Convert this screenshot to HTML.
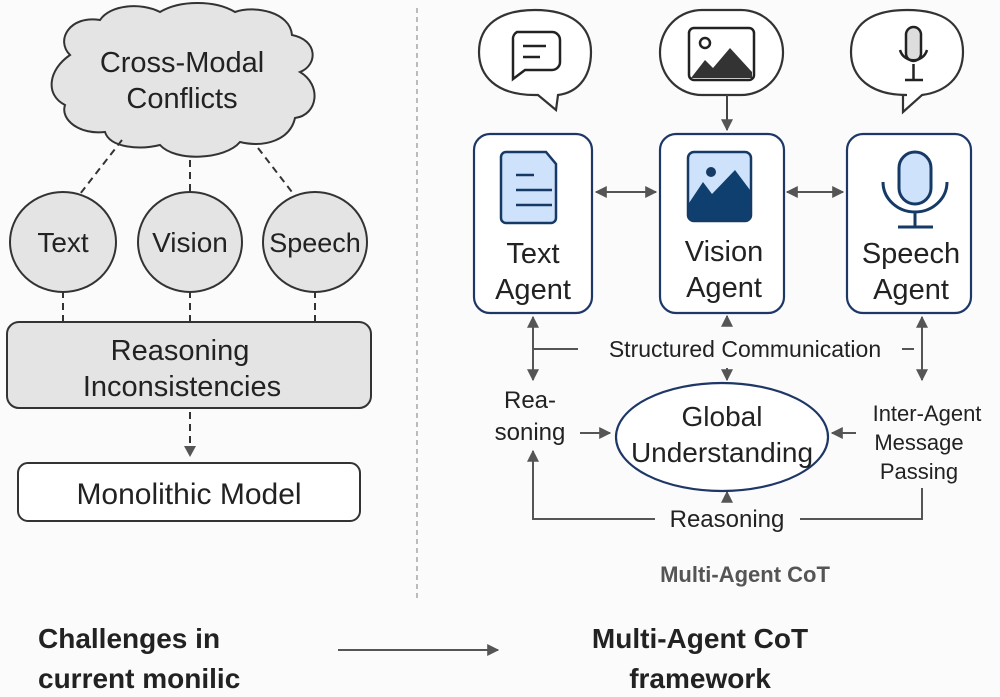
<!DOCTYPE html>
<html><head><meta charset="utf-8"><style>
body{margin:0;background:#fbfbfb;}
svg{display:block}
text{font-family:"Liberation Sans",sans-serif;fill:#222}
</style></head><body>
<svg width="1000" height="697" viewBox="0 0 1000 697" xmlns="http://www.w3.org/2000/svg">
<defs>
<marker id="ah" viewBox="0 0 10 10" refX="9" refY="5" markerWidth="6" markerHeight="6" orient="auto-start-reverse"><path d="M0,0L10,5L0,10z" fill="#555"/></marker>
</defs>
<rect width="1000" height="697" fill="#fbfbfb"/>
<line x1="417" y1="8" x2="417" y2="600" stroke="#999" stroke-width="1.3" stroke-dasharray="5,4"/>
<!-- cloud -->
<path d="M70,55 C55,40 70,15 100,20 C110,5 140,2 160,12 C180,0 215,0 235,12 C255,5 290,12 292,35 C318,40 318,65 300,72 C322,85 318,115 295,118 C290,140 265,148 240,142 C225,160 175,162 160,145 C140,150 110,148 105,132 C80,135 60,120 65,105 C45,95 48,70 70,55 Z" fill="#e4e4e4" stroke="#333" stroke-width="2"/>
<text x="182" y="72" font-size="29" text-anchor="middle">Cross-Modal</text>
<text x="182" y="108" font-size="29" text-anchor="middle">Conflicts</text>
<g stroke="#333" stroke-width="2" stroke-dasharray="7,5" fill="none">
<line x1="122" y1="140" x2="80" y2="194"/>
<line x1="190" y1="160" x2="190" y2="192"/>
<line x1="258" y1="148" x2="295" y2="196"/>
<line x1="63" y1="291" x2="63" y2="322"/>
<line x1="190" y1="291" x2="190" y2="322"/>
<line x1="315" y1="291" x2="315" y2="322"/>
<line x1="190" y1="412" x2="190" y2="445"/>
</g>
<polygon points="184,446 196,446 190,457" fill="#555"/>
<g fill="#e4e4e4" stroke="#333" stroke-width="2">
<ellipse cx="63" cy="242" rx="53" ry="50"/>
<ellipse cx="190" cy="242" rx="52" ry="50"/>
<ellipse cx="315" cy="242" rx="52" ry="50"/>
<rect x="7" y="322" width="364" height="86" rx="12"/>
</g>
<text x="63" y="252" font-size="28" text-anchor="middle">Text</text>
<text x="190" y="252" font-size="28" text-anchor="middle">Vision</text>
<text x="315" y="252" font-size="27" text-anchor="middle">Speech</text>
<text x="180" y="360" font-size="29" text-anchor="middle">Reasoning</text>
<text x="182" y="396" font-size="29" text-anchor="middle">Inconsistencies</text>
<rect x="18" y="463" width="342" height="58" rx="10" fill="#fff" stroke="#333" stroke-width="2"/>
<text x="189" y="504" font-size="30" text-anchor="middle">Monolithic Model</text>
<!-- bottom titles -->
<text x="38" y="648" font-size="28" font-weight="bold">Challenges in</text>
<text x="38" y="688" font-size="28" font-weight="bold">current monilic</text>
<line x1="338" y1="650" x2="498" y2="650" stroke="#555" stroke-width="2" marker-end="url(#ah)"/>
<text x="700" y="648" font-size="28" font-weight="bold" text-anchor="middle">Multi-Agent CoT</text>
<text x="700" y="688" font-size="28" font-weight="bold" text-anchor="middle">framework</text>
<!-- bubbles -->
<g fill="#fff" stroke="#333" stroke-width="2.2">
<path d="M535,95 C495,95 479,75 479,52 C479,25 500,10 535,10 C570,10 591,25 591,52 C591,80 575,93 558,95 L556,110 L538,95 Z"/>
<rect x="660" y="10" width="123" height="85" rx="42"/>
<path d="M907,95 C870,95 851,77 851,52 C851,25 870,10 907,10 C945,10 963,25 963,52 C963,78 945,92 922,95 L903,112 L903,95 Z"/>
</g>
<!-- bubble icons -->
<path d="M517,32 h35 a8,8 0 0 1 8,8 v22 a8,8 0 0 1 -8,8 h-27 l-12,9 v-39 a8,8 0 0 1 4,-8z" fill="none" stroke="#222" stroke-width="2.5"/>
<line x1="523" y1="46" x2="546" y2="46" stroke="#222" stroke-width="2.5"/><line x1="523" y1="57" x2="540" y2="57" stroke="#222" stroke-width="2.5"/>
<rect x="689" y="28" width="65" height="52" rx="5" fill="#fff" stroke="#222" stroke-width="2.5"/>
<circle cx="705" cy="43" r="5" fill="none" stroke="#222" stroke-width="2.5"/>
<path d="M691,78 L705,60 L713,68 L730,48 L752,72 L752,78Z" fill="#333"/>
<rect x="906" y="27" width="15" height="34" rx="7.5" fill="#ddd" stroke="#222" stroke-width="2.5"/>
<path d="M900,50 a14,14 0 0 0 27,0 M913.5,64 v15 M905,80 h18" fill="none" stroke="#222" stroke-width="2.5"/>
<line x1="727" y1="95" x2="727" y2="130" stroke="#444" stroke-width="2" marker-end="url(#ah)"/>
<!-- agent boxes -->
<g fill="#fff" stroke="#1e3767" stroke-width="2.2">
<rect x="474" y="134" width="118" height="179" rx="16"/>
<rect x="660" y="134" width="124" height="179" rx="16"/>
<rect x="847" y="134" width="124" height="179" rx="16"/>
</g>
<path d="M506,152 h40 l10,12 v54 a5,5 0 0 1 -5,5 h-45 a5,5 0 0 1 -5,-5 v-61 a5,5 0 0 1 5,-5z" fill="#cfe2fb" stroke="#163a66" stroke-width="2.5"/>
<g stroke="#163a66" stroke-width="2.5"><line x1="516" y1="175" x2="534" y2="175"/><line x1="516" y1="190" x2="552" y2="190"/><line x1="516" y1="205" x2="552" y2="205"/></g>
<rect x="688" y="152" width="63" height="69" rx="6" fill="#cfe2fb" stroke="#163a66" stroke-width="2.5"/>
<circle cx="711" cy="172" r="5" fill="#163a66"/>
<path d="M689,203 L703,182 L712,194 L735,170 L750,190 L750,215 a5,5 0 0 1 -5,5 h-51 a5,5 0 0 1 -5,-5z" fill="#0f3f6e"/>
<rect x="899" y="152" width="32" height="52" rx="16" fill="#cfe2fb" stroke="#163a66" stroke-width="3"/>
<path d="M883,182 a32,30 0 0 0 64,0 M915,213 v13 M898,227 h35" fill="none" stroke="#163a66" stroke-width="3"/>
<g font-size="29" text-anchor="middle">
<text x="533" y="263">Text</text><text x="533" y="299">Agent</text>
<text x="724" y="261">Vision</text><text x="724" y="297">Agent</text>
<text x="911" y="263">Speech</text><text x="911" y="299">Agent</text>
</g>
<g stroke="#555" stroke-width="2" fill="none">
<line x1="596" y1="192" x2="656" y2="192" marker-start="url(#ah)" marker-end="url(#ah)"/>
<line x1="787" y1="192" x2="843" y2="192" marker-start="url(#ah)" marker-end="url(#ah)"/>
<line x1="533" y1="317" x2="533" y2="380" marker-start="url(#ah)" marker-end="url(#ah)"/>
<line x1="922" y1="317" x2="922" y2="380" marker-start="url(#ah)" marker-end="url(#ah)"/>
<line x1="533" y1="349" x2="578" y2="349"/>
<line x1="902" y1="349" x2="914" y2="349"/>
<line x1="727" y1="326" x2="727" y2="316" marker-end="url(#ah)"/>
<line x1="727" y1="368" x2="727" y2="380" marker-end="url(#ah)"/>
<line x1="580" y1="433" x2="610" y2="433" marker-end="url(#ah)"/>
<line x1="856" y1="433" x2="832" y2="433" marker-end="url(#ah)"/>
<polyline points="655,519 533,519 533,451" marker-end="url(#ah)"/>
<polyline points="800,519 922,519 922,488"/>
<line x1="727" y1="502" x2="727" y2="492" marker-end="url(#ah)"/>
</g>
<text x="745" y="357" font-size="23" text-anchor="middle">Structured Communication</text>
<ellipse cx="722" cy="437" rx="106" ry="54" fill="#fff" stroke="#1e3767" stroke-width="2.2"/>
<text x="722" y="426" font-size="28" text-anchor="middle">Global</text>
<text x="722" y="462" font-size="28" text-anchor="middle">Understanding</text>
<text x="530" y="408" font-size="24" text-anchor="middle">Rea-</text>
<text x="530" y="440" font-size="24" text-anchor="middle">soning</text>
<text x="927" y="421" font-size="22" text-anchor="middle">Inter-Agent</text>
<text x="919" y="450" font-size="22" text-anchor="middle">Message</text>
<text x="919" y="479" font-size="22" text-anchor="middle">Passing</text>
<text x="727" y="527" font-size="24" text-anchor="middle">Reasoning</text>
<text x="745" y="582" font-size="22" font-weight="bold" text-anchor="middle" style="fill:#555">Multi-Agent CoT</text>
</svg>
</body></html>
